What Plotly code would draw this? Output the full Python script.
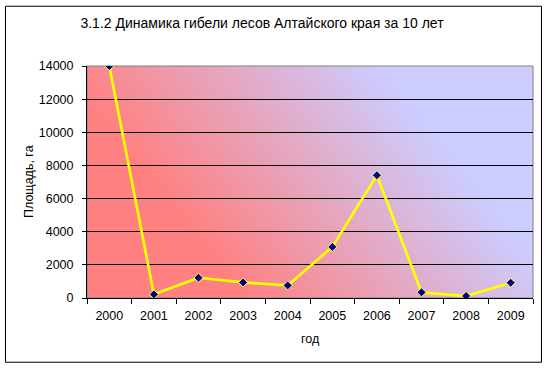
import base64
import plotly.graph_objects as go

years = ["2000", "2001", "2002", "2003", "2004", "2005", "2006", "2007", "2008", "2009"]
area = [14000, 220, 1220, 940, 760, 3080, 7410, 340, 120, 920]
y_ticks = [0, 2000, 4000, 6000, 8000, 10000, 12000, 14000]

title_text = "3.1.2 Динамика гибели лесов Алтайского края за 10 лет"
x_title = "год"
y_title = "Площадь, га"

W, H = 548, 368
L, R, T, B = 87, 533, 65.5, 298.5
pw, ph = R - L, B - T

svg = f'''<svg xmlns="http://www.w3.org/2000/svg" width="{pw}" height="{ph}" viewBox="0 0 {pw} {ph}" preserveAspectRatio="none">
<defs><linearGradient id="g" gradientUnits="userSpaceOnUse" x1="156" y1="233" x2="351" y2="76">
<stop offset="0" stop-color="#FF8080"/><stop offset="1" stop-color="#CCCCFF"/></linearGradient></defs>
<rect x="0" y="0" width="{pw}" height="{ph}" fill="url(#g)"/></svg>'''
src = "data:image/svg+xml;base64," + base64.b64encode(svg.encode()).decode()

FONT = "Liberation Sans, Arial, sans-serif"

fig = go.Figure()
fig.add_trace(go.Scatter(
    x=years, y=area, mode="lines+markers",
    line=dict(color="#FFFF00", width=2.7),
    marker=dict(symbol="diamond", size=7, color="#000080",
                line=dict(color="#FFFF66", width=1)),
    hoverinfo="x+y", showlegend=False,
))

def px_x(px):
    return (px - L) / pw

def px_y(py):
    return (B - py) / ph

fig.update_layout(
    width=W, height=H,
    margin=dict(l=L, r=W - R, t=T, b=H - B, autoexpand=False),
    paper_bgcolor="white", plot_bgcolor="rgba(0,0,0,0)",
    font=dict(family=FONT, size=12.5, color="black"),
    title=dict(text=title_text, x=262 / W, xanchor="center",
               y=1 - 23 / H, yanchor="middle", font=dict(size=14, family=FONT)),
    xaxis=dict(type="category", showgrid=False, showline=True, linecolor="black",
               linewidth=1, ticks="outside", ticklen=5, tickcolor="black",
               tickson="boundaries", ticklabelstandoff=6, zeroline=False,
               range=[-0.5, 9.5], fixedrange=True),
    yaxis=dict(range=[0, 14000], tickvals=y_ticks, tickformat="d", showgrid=True,
               gridcolor="black", gridwidth=1, showline=True, linecolor="black",
               linewidth=1, ticks="outside", ticklen=4, tickcolor="black",
               ticklabelstandoff=6, zeroline=False, fixedrange=True),
    images=[dict(source=src, xref="paper", yref="paper", x=0, y=1,
                 sizex=1, sizey=1, sizing="stretch", layer="below",
                 xanchor="left", yanchor="top")],
    shapes=[
        dict(type="rect", xref="paper", yref="paper", x0=0, x1=1, y0=0, y1=1,
             line=dict(color="#808080", width=1), layer="below"),
        dict(type="rect", xref="paper", yref="paper",
             x0=px_x(5.5), x1=px_x(541.5), y0=px_y(5.5), y1=px_y(363),
             line=dict(color="black", width=1), layer="above"),
    ],
    annotations=[
        dict(text=x_title, xref="paper", yref="paper", x=px_x(310), y=px_y(340),
             xanchor="center", yanchor="middle", showarrow=False,
             font=dict(size=12.5, family=FONT)),
        dict(text=y_title, xref="paper", yref="paper", x=px_x(29), y=px_y(182),
             xanchor="center", yanchor="middle", textangle=-90, showarrow=False,
             font=dict(size=12.5, family=FONT)),
    ],
)

fig.write_html("out.html", config={"displayModeBar": False},
               post_script="document.body.style.margin='0px';")
